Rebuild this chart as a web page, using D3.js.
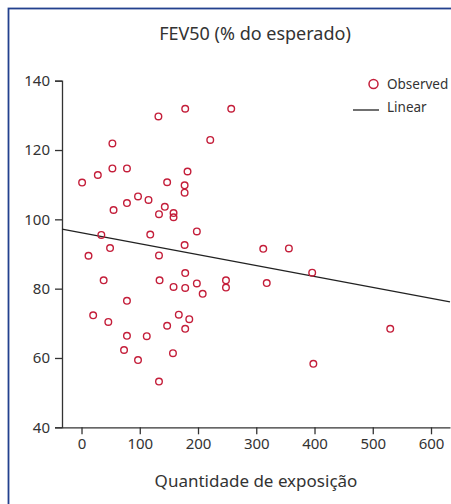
<!DOCTYPE html>
<html>
<head>
<meta charset="utf-8">
<script src="https://cdn.jsdelivr.net/npm/d3@7"></script>
<style>
	html, body { margin: 0; padding: 0; background: #fff; }
	svg { display: block; font-family: "Noto Sans", sans-serif; }
</style>
</head>
<body>
<main></main>
<script>
// DATA
// exposure amount (x) and FEV50 % predicted (y)
const exposure = [132, 178, 257, 53, 221, 1, 28, 53, 78, 182,
	147, 177, 177, 97, 115, 78, 55, 143, 133, 158,
	158, 34, 118, 198, 177, 49, 12, 133, 38, 134,
	178, 158, 178, 198, 208, 248, 248, 78, 20, 46,
	167, 185, 147, 178, 78, 112, 73, 97, 157, 133,
	312, 356, 396, 318, 530, 398];
const fev50 = [129.7, 131.9, 131.9, 121.9, 122.9, 110.6, 112.8, 114.7, 114.7, 113.8,
	110.7, 109.8, 107.7, 106.6, 105.6, 104.7, 102.7, 103.6, 101.5, 101.8,
	100.6, 95.5, 95.6, 96.5, 92.6, 91.7, 89.5, 89.6, 82.4, 82.4,
	84.5, 80.5, 80.2, 81.5, 78.5, 82.4, 80.3, 76.5, 72.3, 70.4,
	72.5, 71.2, 69.3, 68.4, 66.4, 66.3, 62.3, 59.4, 61.4, 53.2,
	91.5, 91.6, 84.6, 81.6, 68.4, 58.3];
// fitted linear model
const fitIntercept = 96.1;
const fitSlope = -0.0315;
// ticks
const xTicks = [0, 100, 200, 300, 400, 500, 600];
const yTicks = [40, 60, 80, 100, 120, 140];
// texts
const titleText = "FEV50 (% do esperado)";
const xLabel = "Quantidade de exposição";
const legendLabels = ["Observed", "Linear"];


// CALLBACK: draw the scatter
function drawChart() {
	const w = 451;
	const h = 504;
	const red = "#c41e3a";
	const ink = "#333";

	// scales
	const xScale = d3.scaleLinear().domain([-33.5, 632.6]).range([62, 450]);
	const yScale = d3.scaleLinear().domain([40, 140]).range([427.3, 80.7]);

	const svg = d3.select("main").append("svg").attr("width", w).attr("height", h);

	// blue frame
	svg.append("rect")
		.attr("x", 8.5).attr("y", 8.5)
		.attr("width", w + 20).attr("height", h + 20)
		.attr("fill", "none").attr("stroke", "#23408e").attr("stroke-width", 1.8);

	// title
	svg.append("text")
		.attr("x", 255).attr("y", 39.5)
		.attr("text-anchor", "middle")
		.attr("font-size", 18).attr("fill", ink)
		.text(titleText);

	// axes
	const xAxis = d3.axisBottom(xScale).tickValues(xTicks).tickSize(7).tickSizeOuter(0).tickPadding(4);
	const gx = svg.append("g").attr("transform", "translate(0," + yScale(40) + ")").call(xAxis);
	const yAxis = d3.axisLeft(yScale).tickValues(yTicks).tickSize(7).tickPadding(5);
	const gy = svg.append("g").attr("transform", "translate(" + xScale.range()[0] + ",0)").call(yAxis);
	[gx, gy].forEach(g => {
		g.select(".domain").attr("stroke", ink).attr("stroke-width", 1.3);
		g.selectAll(".tick line").attr("stroke", ink).attr("stroke-width", 1.3);
		g.selectAll("text").attr("font-size", 15).attr("fill", ink).attr("font-family", "Noto Sans");
	});

	// x label
	svg.append("text")
		.attr("x", 256).attr("y", 487)
		.attr("text-anchor", "middle")
		.attr("font-size", 17).attr("fill", ink)
		.text(xLabel);

	// regression line
	const xd = xScale.domain();
	svg.append("line")
		.attr("x1", xScale(xd[0])).attr("y1", yScale(fitIntercept + fitSlope * xd[0]))
		.attr("x2", xScale(xd[1])).attr("y2", yScale(fitIntercept + fitSlope * xd[1]))
		.attr("stroke", "#222").attr("stroke-width", 1.3);

	// points
	svg.append("g").selectAll("circle").data(exposure).enter().append("circle")
		.attr("cx", d => xScale(d))
		.attr("cy", (d, i) => yScale(fev50[i]))
		.attr("r", 3.3)
		.attr("fill", "none").attr("stroke", red).attr("stroke-width", 1.4);

	// legend
	const lg = svg.append("g");
	lg.append("circle").attr("cx", 373.5).attr("cy", 84).attr("r", 4.5)
		.attr("fill", "none").attr("stroke", red).attr("stroke-width", 1.5);
	lg.append("line").attr("x1", 353).attr("x2", 379).attr("y1", 110).attr("y2", 110)
		.attr("stroke", "#222").attr("stroke-width", 1.3);
	lg.selectAll("text").data(legendLabels).enter().append("text")
		.attr("x", 387).attr("y", (d, i) => 89 + i * 23)
		.attr("font-size", 13.5).attr("fill", ink)
		.text(d => d);
}


// MAIN
document.addEventListener('DOMContentLoaded', () => {
	drawChart();
});
</script>
</body>
</html>
